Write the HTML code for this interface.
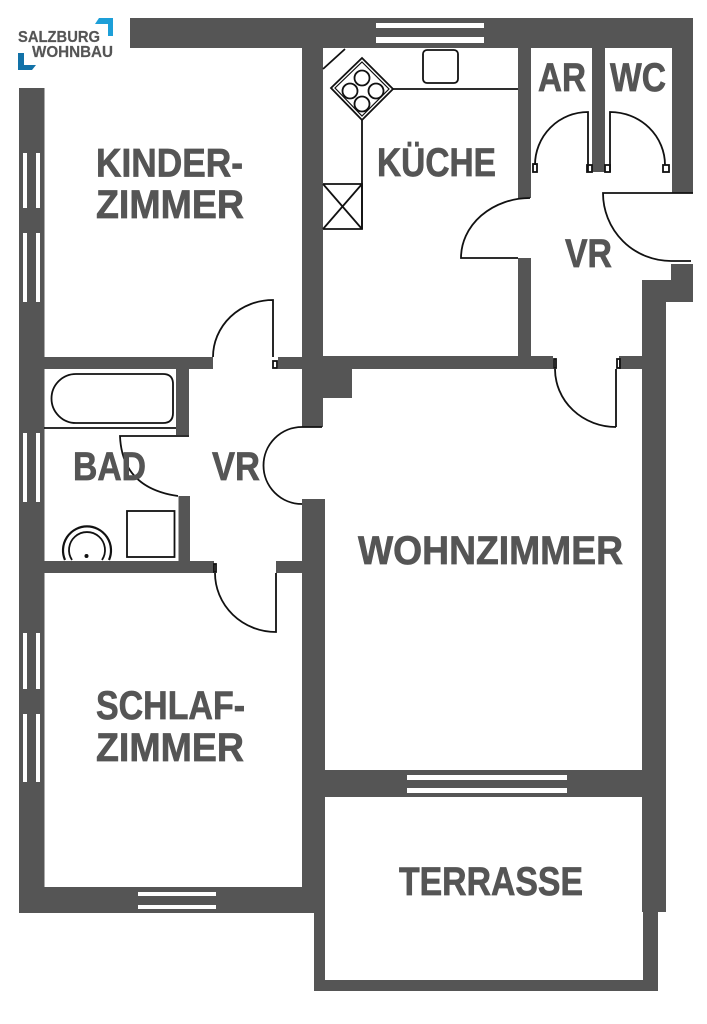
<!DOCTYPE html>
<html><head><meta charset="utf-8"><style>
html,body{margin:0;padding:0;background:#fff}
svg{display:block}
text{font-family:"Liberation Sans",sans-serif;font-weight:bold;fill:#555;stroke:#555;stroke-width:.7}
.l{fill:none;stroke:#111;stroke-width:1.8}
</style></head><body>
<svg width="707" height="1024" viewBox="0 0 707 1024" xmlns="http://www.w3.org/2000/svg">
<rect width="707" height="1024" fill="#fff"/>
<g fill="#555">
<!-- outer -->
<rect x="130" y="18" width="563" height="30"/>
<rect x="19" y="88" width="25.5" height="825"/>
<rect x="19" y="887" width="295" height="26"/>
<rect x="302" y="48" width="21" height="379"/>
<rect x="302" y="499" width="23" height="414"/>
<rect x="325" y="770" width="341" height="27"/>
<rect x="642" y="280" width="24" height="632"/>
<rect x="642" y="280" width="51" height="22"/>
<rect x="671" y="264" width="22" height="38"/>
<rect x="314" y="880" width="11" height="111"/>
<rect x="314" y="980" width="344" height="11"/>
<rect x="643" y="797" width="15" height="194"/>
<!-- kitchen -->
<rect x="518" y="48" width="13" height="150"/>
<rect x="518" y="258" width="13" height="98"/>
<rect x="592" y="47" width="13" height="125"/>
<rect x="672" y="47" width="21" height="146"/>
<rect x="302" y="356" width="251" height="13"/>
<rect x="619" y="356" width="23" height="13"/>
<rect x="323" y="369" width="29" height="29"/>
<!-- left rooms -->
<rect x="44" y="357" width="169" height="12"/>
<rect x="278" y="357" width="24" height="12"/>
<rect x="176" y="369" width="13" height="66"/>
<rect x="178.500" y="496" width="11.500" height="65"/>
<rect x="44" y="561" width="170" height="12"/>
<rect x="276" y="561" width="26" height="12"/>
</g>
<!-- windows -->
<g fill="#fff">
<rect x="376" y="23" width="108" height="5"/><rect x="376" y="37" width="108" height="6"/>
<rect x="407" y="775" width="160" height="5"/><rect x="407" y="788" width="160" height="5"/>
<rect x="138" y="892" width="78" height="4"/><rect x="138" y="905" width="78" height="4"/>
<rect x="23" y="153" width="4" height="55"/><rect x="36" y="153" width="4" height="55"/>
<rect x="23" y="233" width="4" height="69"/><rect x="36" y="233" width="4" height="69"/>
<rect x="23" y="433" width="4" height="69"/><rect x="36" y="433" width="4" height="69"/>
<rect x="23" y="633" width="4" height="56"/><rect x="36" y="633" width="4" height="56"/>
<rect x="23" y="714" width="4" height="68"/><rect x="36" y="714" width="4" height="68"/>
</g>
<!-- doors -->
<g class="l">
<path d="M273 357V300A60 57 0 0 0 213 357"/>
<path d="M276 573V632A61 59 0 0 1 215 573"/>
<path d="M189 436H120Q122 488 178 496"/>
<path d="M322 427H302A38 38 0 0 0 302 504"/>
<path d="M588 172V112A53 53 0 0 0 535 165"/>
<path d="M610 172V112A55 53 0 0 1 665 165"/>
<path d="M530 198A69 60 0 0 0 461 258H518"/>
<path d="M693 193H603A68 68 0 0 0 671 261H691"/>
<path d="M616 427V369M555 369A61 58 0 0 0 616 427"/>
<rect x="273" y="361" width="4" height="7"/>
<rect x="533" y="164" width="4" height="8"/>
<rect x="587" y="165" width="5" height="7"/>
<rect x="605" y="165" width="5" height="7"/>
<rect x="663" y="165" width="6" height="7"/>
<rect x="214" y="564" width="2" height="8"/>
<rect x="554" y="359" width="2" height="9"/>
<rect x="617" y="359" width="3" height="9"/>
<!-- kitchen fixtures -->
<path d="M362 58L393 89L362 120L331 88Z"/>
<path d="M362 62L389 89L362 116L335 88Z" stroke-width="1.200"/>
<circle cx="362" cy="78" r="7.500"/><circle cx="350" cy="91" r="7.500"/><circle cx="376" cy="91" r="7.500"/><circle cx="362" cy="104" r="7.500"/>
<path d="M393 89H518M323 69L345 49M362 120V229"/>
<rect x="423" y="50" width="35" height="33" rx="4"/>
<path d="M323 184H362V229H323M323 184L362 229M323 229L362 184"/>
<!-- bath -->
<path d="M76 374H163Q173 374 173 384V413Q173 423 163 423H76A24.500 24.500 0 0 1 76 374Z"/>
<path d="M44 428H176"/>
<rect x="127" y="511" width="47.500" height="46"/>
<path d="M65 560A24 24 0 1 1 109 560" stroke-width="2.200"/>
<path d="M72 560A18 18 0 1 1 102 560"/>
</g>
<circle cx="86.500" cy="556" r="2" fill="#111"/>
<!-- labels -->
<g font-size="40">
<text x="96" y="176.500" textLength="147" lengthAdjust="spacingAndGlyphs">KINDER-</text>
<text x="96" y="218" textLength="148" lengthAdjust="spacingAndGlyphs">ZIMMER</text>
<text x="377" y="176" textLength="119" lengthAdjust="spacingAndGlyphs">KÜCHE</text>
<text x="538" y="91" textLength="48" lengthAdjust="spacingAndGlyphs">AR</text>
<text x="610" y="91" textLength="56" lengthAdjust="spacingAndGlyphs">WC</text>
<text x="565" y="267" textLength="47" lengthAdjust="spacingAndGlyphs">VR</text>
<text x="73" y="480" textLength="73" lengthAdjust="spacingAndGlyphs">BAD</text>
<text x="212" y="480" textLength="48" lengthAdjust="spacingAndGlyphs">VR</text>
<text x="358" y="564" textLength="265" lengthAdjust="spacingAndGlyphs">WOHNZIMMER</text>
<text x="96" y="719" textLength="149" lengthAdjust="spacingAndGlyphs">SCHLAF-</text>
<text x="96" y="761" textLength="148" lengthAdjust="spacingAndGlyphs">ZIMMER</text>
<text x="399" y="895" textLength="184" lengthAdjust="spacingAndGlyphs">TERRASSE</text>
</g>
<!-- logo -->
<polygon points="99,18 113,18 113,36 108,36 108,24 95,24" fill="#1d9fd8"/>
<polygon points="18,53 24,53 24,65 36,65 32,70 18,70" fill="#1272a8"/>
<text x="18" y="42" font-size="16" style="stroke-width:.2" textLength="82" lengthAdjust="spacingAndGlyphs">SALZBURG</text>
<text x="32" y="57" font-size="16" style="stroke-width:.2" textLength="81" lengthAdjust="spacingAndGlyphs">WOHNBAU</text>
</svg>
</body></html>
